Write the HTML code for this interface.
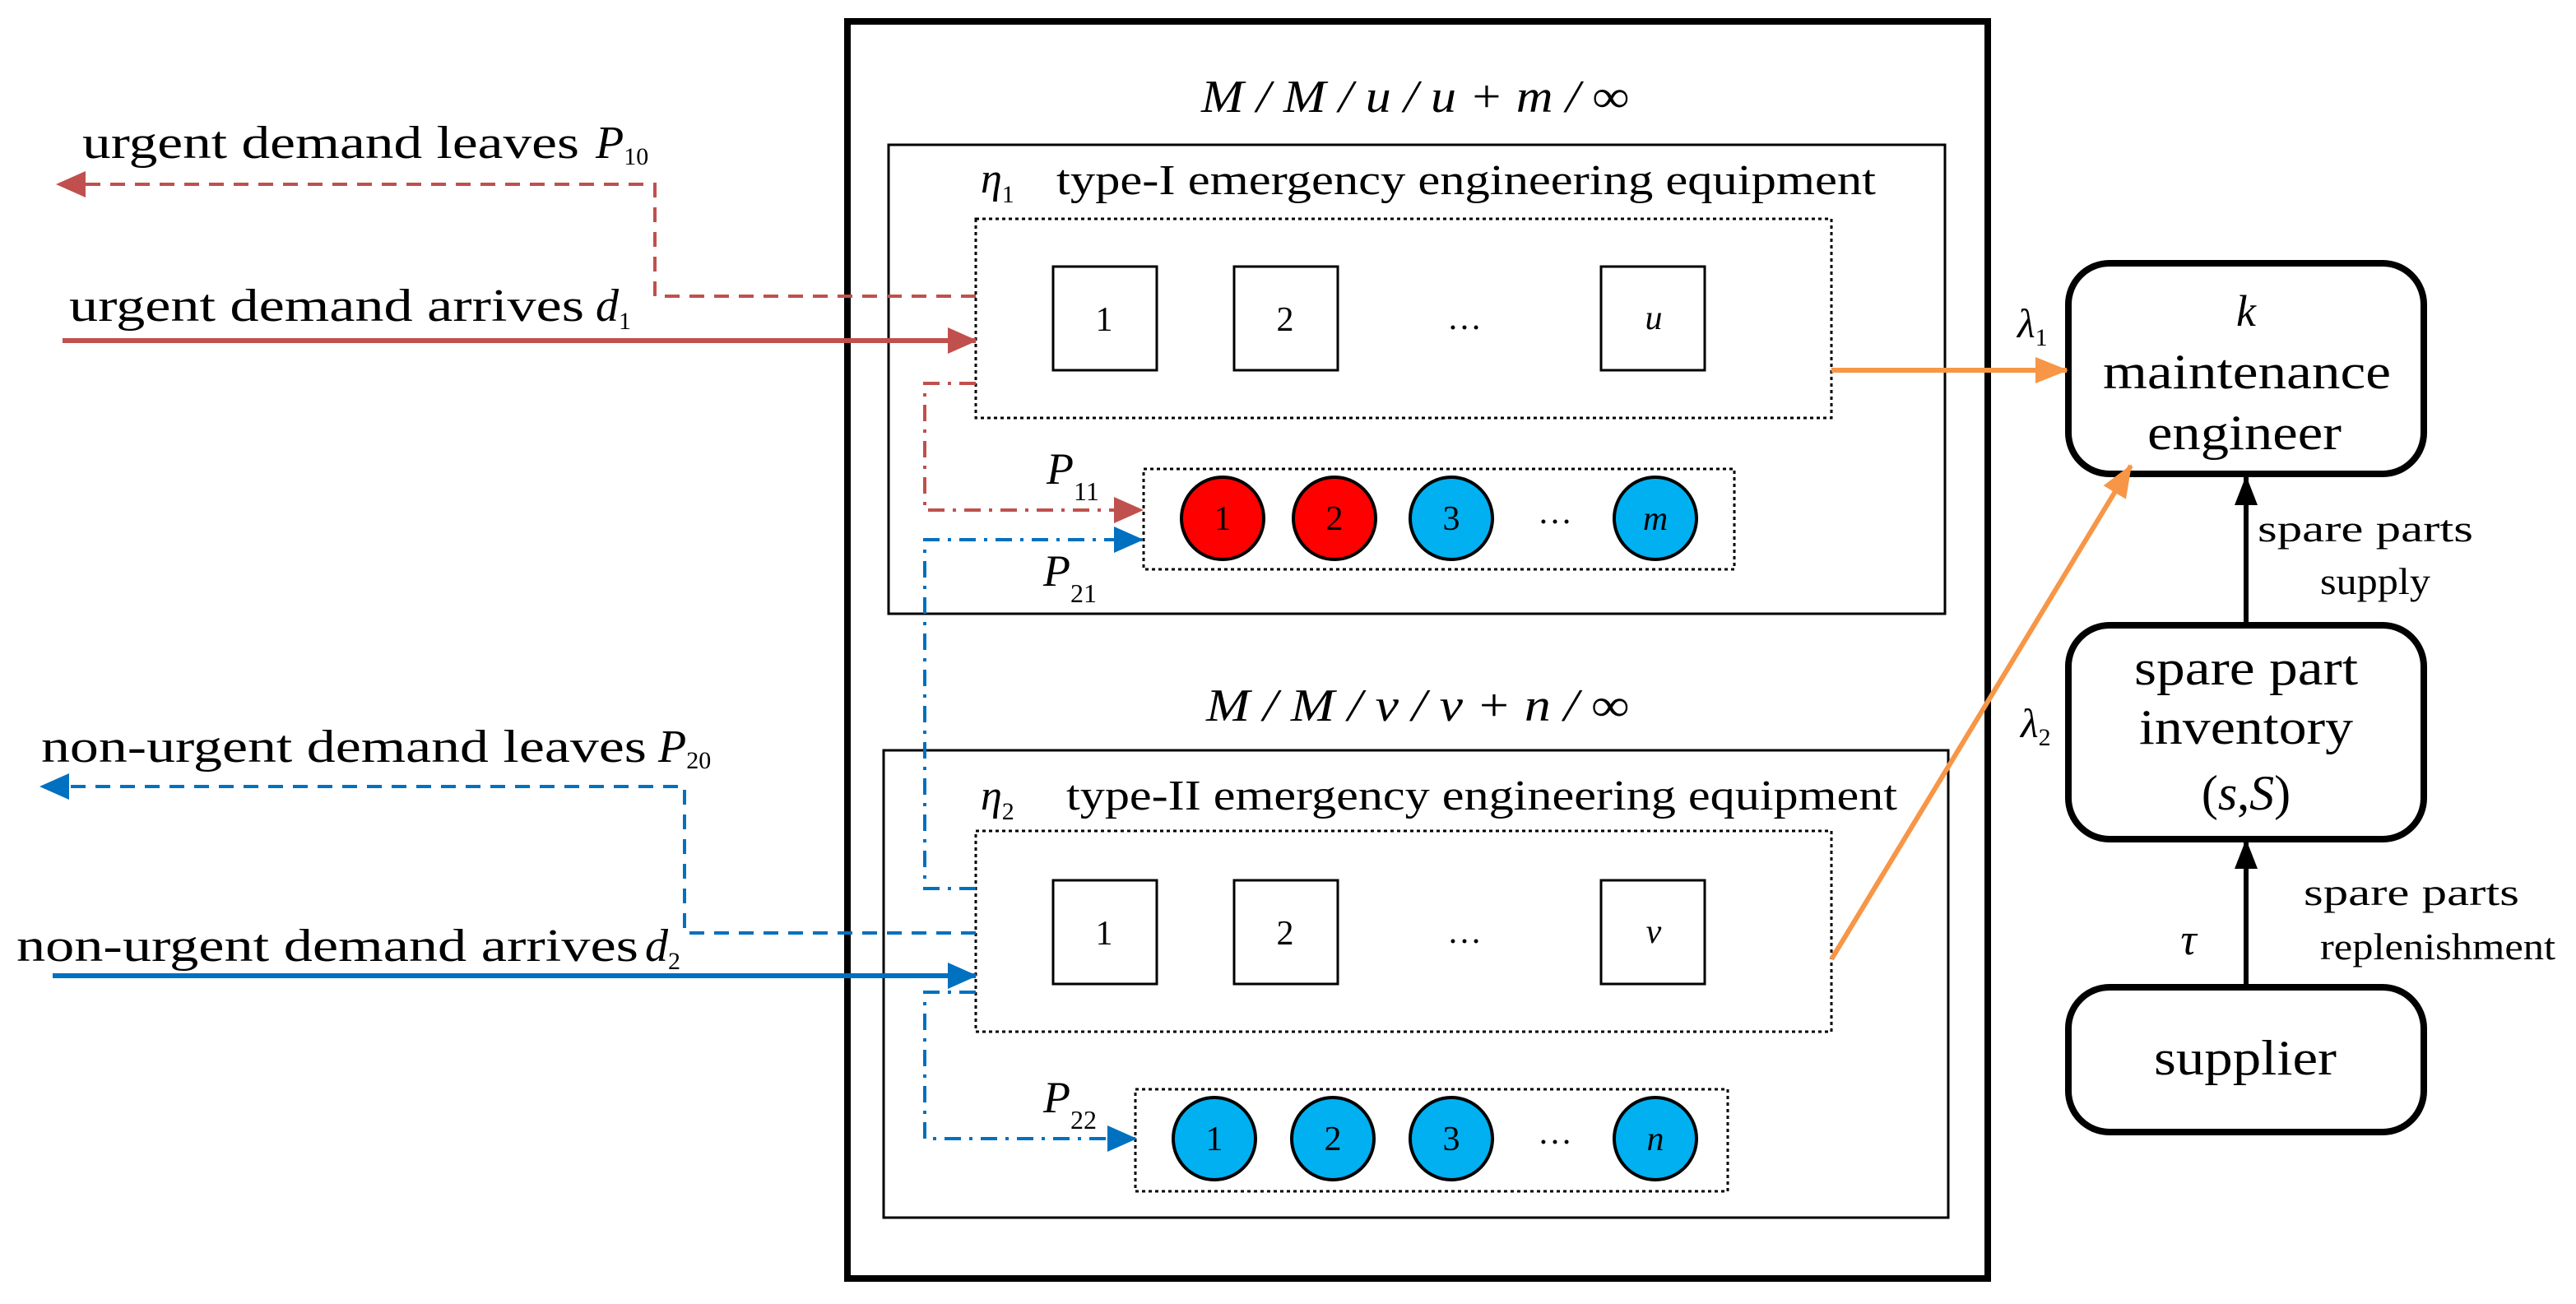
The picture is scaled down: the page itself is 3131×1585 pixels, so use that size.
<!DOCTYPE html>
<html><head><meta charset="utf-8"><style>html,body{margin:0;padding:0;background:#fff}svg{display:block}</style></head>
<body>
<svg width="3131" height="1585" viewBox="0 0 1565.5 792.5" xmlns="http://www.w3.org/2000/svg" font-family="'Liberation Serif', serif">
<defs>
<marker id="ar" markerWidth="18" markerHeight="16" refX="17" refY="8" orient="auto" markerUnits="userSpaceOnUse" viewBox="0 0 18 16"><path d="M0,0 L18,8 L0,16z" fill="#c0504d"/></marker>
<marker id="ab" markerWidth="18" markerHeight="16" refX="17" refY="8" orient="auto" markerUnits="userSpaceOnUse" viewBox="0 0 18 16"><path d="M0,0 L18,8 L0,16z" fill="#0070c0"/></marker>
<marker id="ao" markerWidth="20" markerHeight="16" refX="19" refY="8" orient="auto" markerUnits="userSpaceOnUse" viewBox="0 0 20 16"><path d="M0,0 L20,8 L0,16z" fill="#f79646"/></marker>
<marker id="ak" markerWidth="18" markerHeight="14" refX="17" refY="7" orient="auto" markerUnits="userSpaceOnUse" viewBox="0 0 18 14"><path d="M0,0 L18,7 L0,14z" fill="#000"/></marker>
</defs>
<g fill="none" stroke="#000">
<rect x="515" y="13" width="693" height="764" stroke-width="4"/>
<rect x="540" y="88" width="642" height="285" stroke-width="1.5"/>
<rect x="537" y="456" width="647" height="284" stroke-width="1.5"/>
<g stroke-dasharray="2,2" stroke-width="1.5">
<rect x="593" y="133" width="520" height="121"/>
<rect x="695" y="285" width="359" height="61"/>
<rect x="593" y="505" width="520" height="122"/>
<rect x="690" y="662" width="360" height="62"/>
</g>
<g stroke-width="1.5">
<rect x="640" y="162" width="63" height="63"/><rect x="750" y="162" width="63" height="63"/><rect x="973" y="162" width="63" height="63"/>
<rect x="640" y="535" width="63" height="63"/><rect x="750" y="535" width="63" height="63"/><rect x="973" y="535" width="63" height="63"/>
</g>
<g stroke-width="2">
<circle cx="743" cy="315" r="25" fill="#ff0000"/><circle cx="811" cy="315" r="25" fill="#ff0000"/><circle cx="882" cy="315" r="25" fill="#00b0f0"/><circle cx="1006" cy="315" r="25" fill="#00b0f0"/>
<circle cx="738" cy="692" r="25" fill="#00b0f0"/><circle cx="810" cy="692" r="25" fill="#00b0f0"/><circle cx="882" cy="692" r="25" fill="#00b0f0"/><circle cx="1006" cy="692" r="25" fill="#00b0f0"/>
</g>
<g stroke-width="4">
<rect x="1257" y="160" width="216" height="128" rx="25"/>
<rect x="1257" y="380" width="216" height="130" rx="25"/>
<rect x="1257" y="600" width="216" height="88" rx="25"/>
</g>
<line x1="1365" y1="380" x2="1365" y2="290" stroke-width="3" marker-end="url(#ak)"/>
<line x1="1365" y1="600" x2="1365" y2="511" stroke-width="3" marker-end="url(#ak)"/>
<polyline points="593,180 398,180 398,112 35,112" stroke="#c0504d" stroke-width="2" stroke-dasharray="9,6" marker-end="url(#ar)"/>
<line x1="38" y1="207" x2="593" y2="207" stroke="#c0504d" stroke-width="3" marker-end="url(#ar)"/>
<polyline points="593,233 562,233 562,310 694,310" stroke="#c0504d" stroke-width="2" stroke-dasharray="10,5,2,5" marker-end="url(#ar)"/>
<polyline points="593,540 562,540 562,328 694,328" stroke="#0070c0" stroke-width="2" stroke-dasharray="10,5,2,5" marker-end="url(#ab)"/>
<polyline points="593,567 416,567 416,478 25,478" stroke="#0070c0" stroke-width="2" stroke-dasharray="9,6" marker-end="url(#ab)"/>
<line x1="32" y1="593" x2="593" y2="593" stroke="#0070c0" stroke-width="3" marker-end="url(#ab)"/>
<polyline points="593,603 562,603 562,692 690,692" stroke="#0070c0" stroke-width="2" stroke-dasharray="10,5,2,5" marker-end="url(#ab)"/>
<line x1="1113" y1="225" x2="1256" y2="225" stroke="#f79646" stroke-width="3" marker-end="url(#ao)"/>
<line x1="1113" y1="583" x2="1295" y2="283" stroke="#f79646" stroke-width="3" marker-end="url(#ao)"/>
</g>
<g fill="#000" lengthAdjust="spacingAndGlyphs">
<text x="730" y="68" font-size="28" font-style="italic" textLength="260" lengthAdjust="spacingAndGlyphs">M / M / u / u + m / ∞</text>
<text x="733" y="438" font-size="28" font-style="italic" textLength="257" lengthAdjust="spacingAndGlyphs">M / M / v / v + n / ∞</text>
<text x="596" y="117" font-size="26" font-style="italic">η<tspan font-size="15" font-style="normal" dy="6">1</tspan></text>
<text x="642" y="118" font-size="26" textLength="498" lengthAdjust="spacingAndGlyphs">type-I emergency engineering equipment</text>
<text x="596" y="492" font-size="26" font-style="italic">η<tspan font-size="15" font-style="normal" dy="6">2</tspan></text>
<text x="648" y="492" font-size="26" textLength="505" lengthAdjust="spacingAndGlyphs">type-II emergency engineering equipment</text>
<g font-size="21" text-anchor="middle">
<text x="671" y="201">1</text><text x="781" y="201">2</text><text x="890" y="200">…</text><text x="1005" y="200" font-style="italic">u</text>
<text x="671" y="574">1</text><text x="781" y="574">2</text><text x="890" y="573">…</text><text x="1005" y="573" font-style="italic">v</text>
<text x="743" y="322">1</text><text x="811" y="322">2</text><text x="882" y="322">3</text><text x="945" y="318">…</text><text x="1006" y="322" font-style="italic">m</text>
<text x="738" y="699">1</text><text x="810" y="699">2</text><text x="882" y="699">3</text><text x="945" y="695">…</text><text x="1006" y="699" font-style="italic">n</text>
</g>
<text x="50" y="96" font-size="28" textLength="302" lengthAdjust="spacingAndGlyphs">urgent demand leaves</text>
<text x="362" y="96" font-size="28" font-style="italic">P<tspan font-size="15" font-style="normal" dy="4">10</tspan></text>
<text x="42" y="195" font-size="28" textLength="313" lengthAdjust="spacingAndGlyphs">urgent demand arrives</text>
<text x="362" y="195" font-size="28" font-style="italic">d<tspan font-size="15" font-style="normal" dy="5">1</tspan></text>
<text x="25" y="463" font-size="28" textLength="368" lengthAdjust="spacingAndGlyphs">non-urgent demand leaves</text>
<text x="400" y="463" font-size="28" font-style="italic">P<tspan font-size="15" font-style="normal" dy="4">20</tspan></text>
<text x="10" y="584" font-size="28" textLength="378" lengthAdjust="spacingAndGlyphs">non-urgent demand arrives</text>
<text x="392" y="584" font-size="28" font-style="italic">d<tspan font-size="15" font-style="normal" dy="5">2</tspan></text>
<text x="636" y="294" font-size="27" font-style="italic">P<tspan font-size="16" font-style="normal" dy="10">11</tspan></text>
<text x="634" y="356" font-size="27" font-style="italic">P<tspan font-size="16" font-style="normal" dy="10">21</tspan></text>
<text x="634" y="676" font-size="27" font-style="italic">P<tspan font-size="16" font-style="normal" dy="10">22</tspan></text>
<text x="1226" y="205" font-size="25" font-style="italic">λ<tspan font-size="15" font-style="normal" dy="5">1</tspan></text>
<text x="1228" y="448" font-size="25" font-style="italic">λ<tspan font-size="15" font-style="normal" dy="5">2</tspan></text>
<g font-size="30">
<text x="1365" y="198" font-style="italic" font-size="27" text-anchor="middle">k</text>
<text x="1278" y="236" textLength="175" lengthAdjust="spacingAndGlyphs">maintenance</text>
<text x="1305" y="273" textLength="118" lengthAdjust="spacingAndGlyphs">engineer</text>
<text x="1297" y="416" textLength="136" lengthAdjust="spacingAndGlyphs">spare part</text>
<text x="1300" y="452" textLength="130" lengthAdjust="spacingAndGlyphs">inventory</text>
<text x="1365" y="492" text-anchor="middle">(<tspan font-style="italic">s</tspan>,<tspan font-style="italic">S</tspan>)</text>
<text x="1309" y="653" textLength="111" lengthAdjust="spacingAndGlyphs">supplier</text>
</g>
<g font-size="23">
<text x="1372" y="329" textLength="131" lengthAdjust="spacingAndGlyphs">spare parts</text>
<text x="1410" y="361" textLength="67" lengthAdjust="spacingAndGlyphs">supply</text>
<text x="1400" y="550" textLength="131" lengthAdjust="spacingAndGlyphs">spare parts</text>
<text x="1410" y="583" textLength="143" lengthAdjust="spacingAndGlyphs">replenishment</text>
</g>
<text x="1330" y="580" font-size="27" font-style="italic" text-anchor="middle">τ</text>
</g>
</svg>
</body></html>
